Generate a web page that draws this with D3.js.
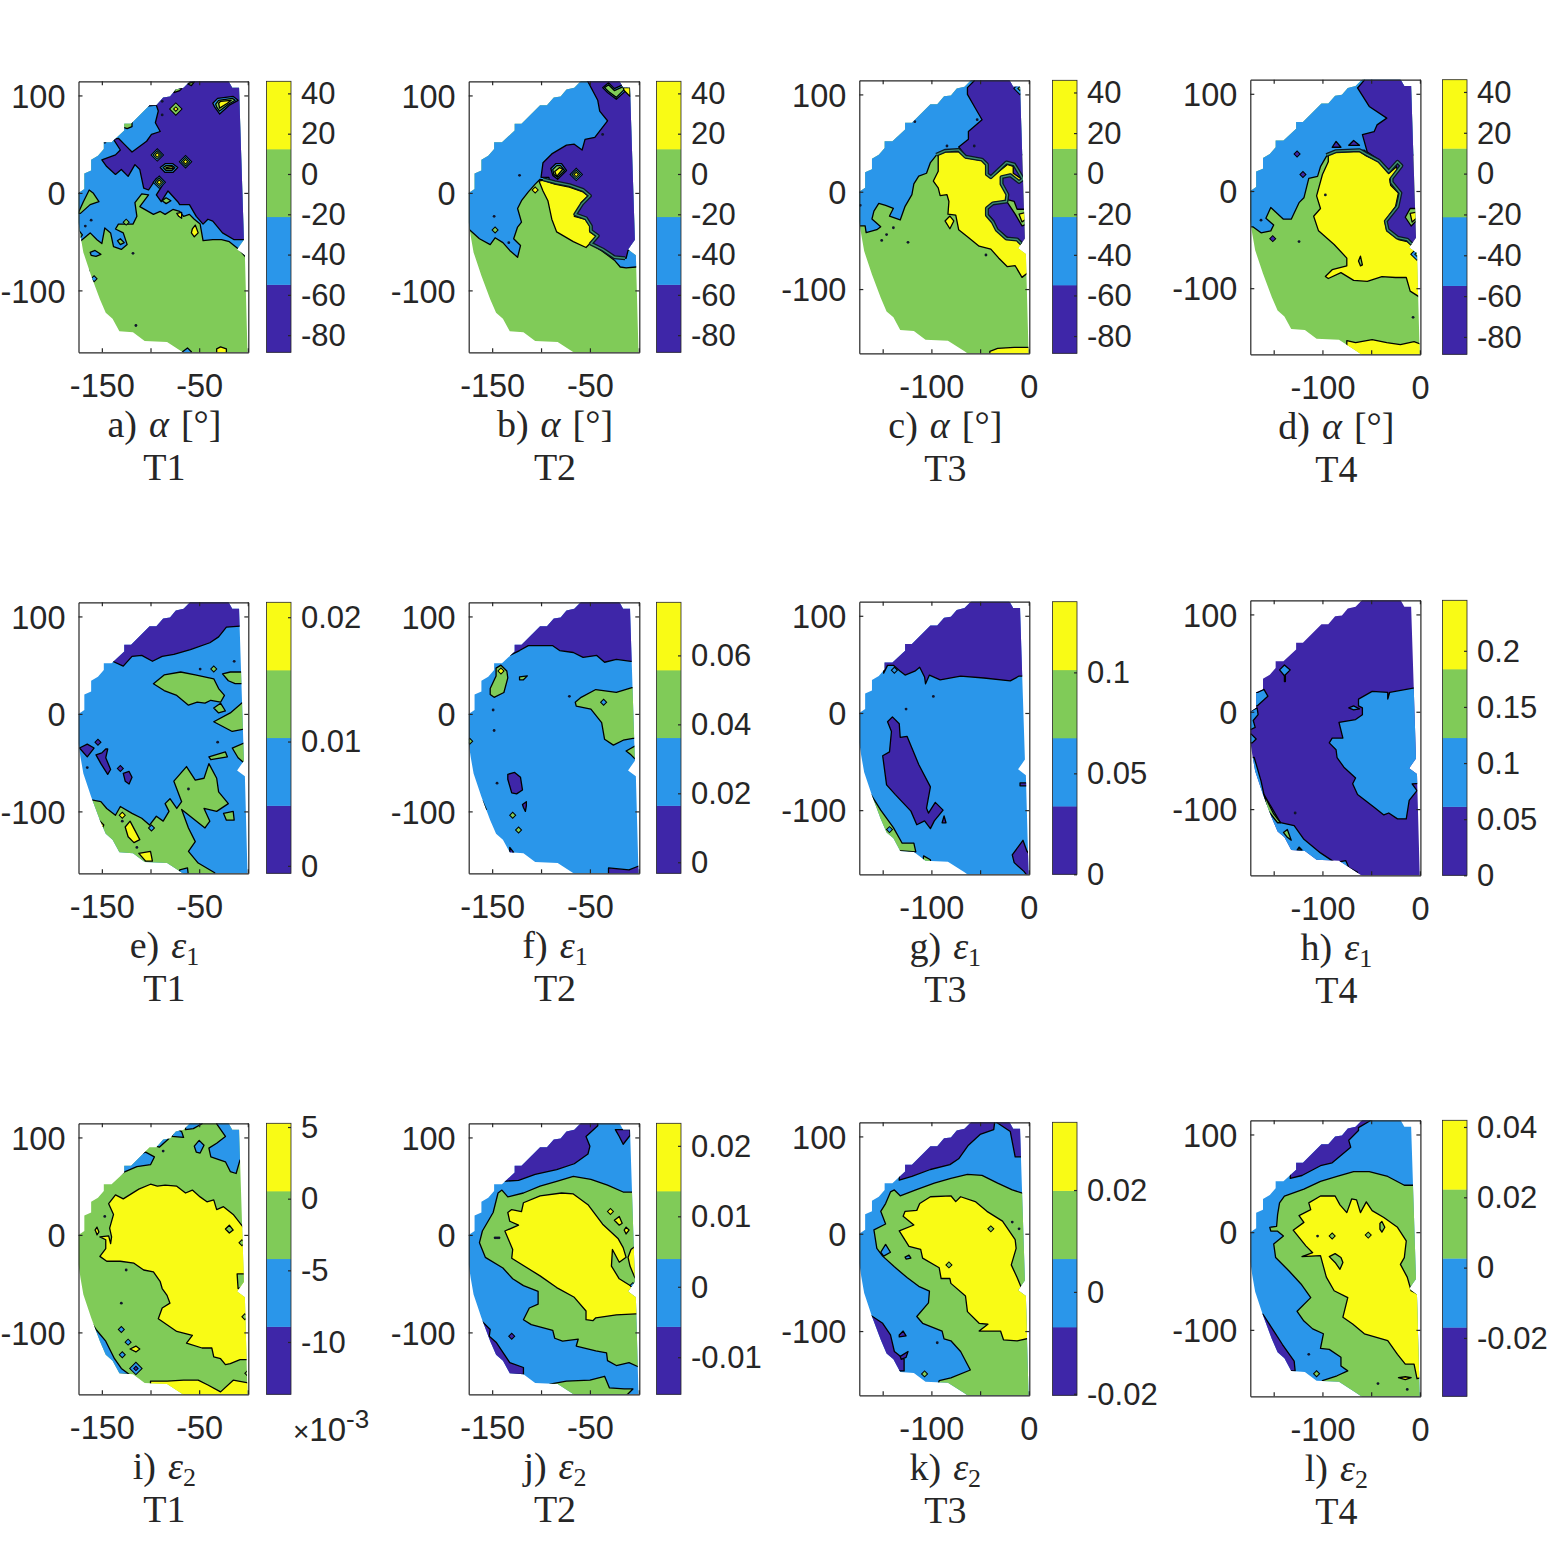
<!DOCTYPE html>
<html>
<head>
<meta charset="utf-8">
<script src="https://cdn.jsdelivr.net/npm/d3@7"></script>
<style>
  body { margin: 0; background: #fff; }
  text { fill: #262626; }
</style>
</head>
<body>
<div id="chart"></div>
<script>
// contour levels, dark to bright
var levelColors = ["#3e26a8", "#2a96ea", "#80cb58", "#f9fb15"];

// measured region shared by all the panels (x, y in degrees)
var outline = [-174,0, -168,4, -168,20, -161,23, -161,34, -154,38, -148,45, -148,52, -140,52, -127,64, -127,71, -120,71,
  -101,90, -94,90, -87,98, -80,99, -74,106, -66,108, -59,115, -59,125, -20,125, -20,115, -16,108, -9,108, -4,-48, -11,-58, -3,-64,
  0,-175, -50,-175, -66,-164, -83,-153, -106,-152, -118,-143, -132,-142, -139,-129, -146,-123, -152,-109, -161,-85,
  -169,-61, -172,-44, -174,-30];

// regions are [level, x,y, x,y, ...] painted in order over the base level
var baseA = 2;
var regionsA = [
  [1, -174,-51, -162,-41, -155,-48, -150,-52, -147,-36, -141,-41, -138,-55, -130,-58, -124,-53, -128,-41, -136,-37, -133,-32, -118,-32, -114,-24, -116,-10, -109,-1, -102,-2, -111,-14, -97,-22, -90,-19, -85,-22, -77,-17, -70,-19, -66,-24, -60,-22, -55,-27, -49,-32, -46,-49, -36,-48, -27,-48, -19,-50, -9,-58, -2,-66, 10,-66, 10,125, -185,125, -185,-51],
  [0, -118,75, -111,82, -104,89, -94,90, -92,84, -95,72, -90,63, -99,60, -104,53, -119,42, -126,49, -133,56, -138,55, -131,44, -136,39, -150,34, -145,27, -136,19, -130,24, -123,17, -116,29, -111,24, -107,5, -102,3, -94,15, -87,9, -94,-2, -89,-9, -82,2, -72,-9, -70,-12, -60,-12, -53,-24, -46,-32, -41,-27, -36,-29, -26,-41, -14,-48, 5,-48, 5,125, -118,125],
  [2, -127,73, -119,73, -119,68, -124,66, -130,68],
  [2, -76,103, -70,105, -68,107, -74,108],
  [2, -62,112, -55,114, -58,110],
  [2, -174,-20, -169,-9, -163,3, -159,0, -153,-9, -162,-12, -172,-21, -180,-21, -180,-20],
  [2, -174,-38, -170,-43, -172,-46, -180,-46, -180,-38],
  [1, -162,-61, -157,-59, -151,-63, -156,-65, -161,-64],
  [2, -134,-49, -131,-47, -127,-51, -131,-53],
  [3, -57,-37, -54,-33, -51,-41, -55,-45, -58,-41],
  [3, -73,-21, -68,-20, -68,-26, -71,-24],
  [2, -88,-8, -84,-5, -79,-8, -84,-11],
  [1, -90,26, -85,30, -77,30, -72,26, -77,21, -85,21],
  [2, -87,26, -84,28, -78,28, -75,26, -78,23, -84,23],
  [3, -84,26, -78,27, -76,25, -84,25],
  [1, -36,92, -31,97, -15,99, -10,95, -19,90, -29,81, -34,88],
  [2, -33,91, -30,95, -16,97, -13,95, -20,91, -29,84, -32,88],
  [3, -30,92, -28,94, -17,95, -21,92, -29,87],
  [1, -67,-163, -62,-159, -58,-163, -58,-170, -67,-170],
  [3, -32,-160, -28,-158, -22,-160, -22,-170, -32,-170]
];
var spotsA = [[-93,39,1,3], [-64,32,1,3], [-91,11,1,3], [-74,86,2,3], [-158,-88,1,1], [-125,-30,2,2]];
var specksA = [[-161,-28], [-167,-34], [-147,52], [-115,-136], [-118,-62], [-164,-80], [-88,80], [-88,94], [-174,0]];
var bandsA = [];

var baseB = 2;
var regionsB = [
  [1, -174,-37, -163,-47, -152,-53, -147,-46, -139,-51, -132,-59, -124,-66, -121,-54, -128,-47, -124,-35, -120,-30, -124,-16, -120,-8, -113,1, -106,9, -101,14, -86,11, -71,8, -57,2, -52,-3, -59,-11, -66,-23, -55,-27, -50,-40, -44,-45, -49,-52, -37,-60, -25,-69, -19,-76, -13,-77, -3,-76, 10,-76, 10,125, -185,125, -185,-37],
  [0, -100,16, -98,31, -89,40, -74,49, -66,50, -58,44, -55,55, -45,57, -32,74, -40,84, -42,95, -52,114, -60,125, 10,125, 10,-50, -11,-59, -13,-67, -23,-66, -38,-57, -49,-52, -43,-44, -50,-39, -50,-34, -54,-27, -66,-23, -58,-11, -51,-3, -57,2, -71,8, -86,10, -91,9, -92,16],
  [3, -102,12, -98,13, -86,9, -71,6, -57,1, -52,-3, -59,-10, -60,-16, -66,-24, -55,-27, -50,-34, -50,-40, -43,-45, -54,-56, -67,-50, -84,-40, -89,-27, -93,-8, -98,2],
  [1, -90,25, -85,30, -79,30, -74,23, -83,14, -88,18],
  [2, -88,24, -84,28, -80,28, -76,23, -83,16, -87,19],
  [3, -86,22, -81,26, -78,24, -84,17],
  [1, -37,108, -31,113, -25,107, -16,111, -11,107, -23,96, -32,103],
  [2, -35,108, -31,111, -25,105, -16,109, -14,107, -23,98, -31,104],
  [3, -16,108, -9,108, -9,99, -15,105]
];
var spotsB = [[-64,19,1,3], [-147,-38,2,2], [-106,3,3,3]];
var specksB = [[-122,18], [-148,-24], [-133,-51], [-37,60]];
var bandsB = [[-98,14, -86,11, -71,8, -57,3, -50,-3, -58,-11, -65,-22, -54,-26, -49,-34, -49,-39, -42,-44, -49,-52, -37,-58, -25,-66, -14,-67]];

var baseC = 2;
var regionsC = [
  [1, -173,-35, -168,-35, -167,-42, -156,-39, -152,-36, -161,-28, -159,-20, -154,-12, -147,-14, -139,-17, -143,-25, -132,-29, -127,-15, -120,-3, -118,8, -113,16, -105,19, -101,30, -93,40, -72,44, -60,38, 10,38, 10,125, -185,125, -185,-35],
  [0, -72,46, -62,54, -62,62, -48,74, -55,86, -63,100, -63,107, -56,114, -56,125, 10,125, 10,-50, -6,-56, -12,-50, -23,-48, -33,-39, -37,-31, -43,-24, -43,-17, -46,18, -65,37],
  [3, -93,38, -86,41, -72,41, -65,35, -48,32, -43,28, -43,18, -39,14, -22,28, -16,26, -16,19, -7,13, -10,9, -19,18, -27,14, -27,8, -21,-3, -22,-10, -36,-11, -43,-16, -42,-23, -36,-30, -32,-39, -22,-47, -12,-49, -5,-56, 2,-64, 2,-81, -7,-88, -14,-76, -22,-77, -31,-68, -39,-59, -51,-56, -62,-47, -72,-39, -75,-24, -83,-23, -82,-10, -84,-3, -91,-4, -93,4, -98,11, -93,21],
  [2, -22,-8, -15,-10, -12,-18, 2,-18, 2,-32, -7,-35, -14,-23, -22,-11],
  [3, -10,-23, 2,-20, 2,-25, -7,-31],
  [3, -86,-30, -81,-25, -77,-30, -81,-38],
  [3, -40,-164, -32,-161, -15,-160, 0,-160, 5,-172, -40,-172]
];
var spotsC = [[-9,106,1,2]];
var specksC = [[-146,-44], [-151,-50], [-139,-37], [-124,-52], [-44,-65], [-84,47], [-56,47], [-53,74], [-117,72], [-173,-14]];
var bandsC = [[-95,38, -86,42, -72,43, -65,36, -48,33, -43,28, -43,18, -39,15, -23,30, -15,28, -6,13, -10,10, -19,17, -28,15, -28,8, -22,-3, -23,-10, -37,-12, -43,-17, -43,-24, -37,-31, -33,-39, -23,-48, -12,-49, -6,-55]];

var baseD = 2;
var regionsD = [
  [1, -171,-37, -163,-43, -153,-41, -150,-35, -158,-28, -153,-17, -140,-29, -132,-29, -124,-12, -119,-7, -114,13, -105,15, -102,25, -94,39, -57,42, -52,37, 10,37, 10,125, -185,125, -185,-37],
  [0, -54,40, -59,58, -47,61, -44,68, -34,75, -52,87, -64,106, -57,114, -57,125, 10,125, 10,-50, -6,-57, -13,-50, -23,-48, -34,-40, -36,-31, -23,-16, -20,-2, -29,10, -29,15, -23,29, -32,22, -42,32],
  [3, -94,37, -86,40, -62,41, -55,36, -42,30, -32,18, -24,25, -23,20, -31,12, -30,6, -22,-2, -25,-16, -36,-31, -34,-41, -22,-50, -13,-52, -6,-58, 1,-76, 1,-110, -10,-103, -14,-89, -25,-89, -39,-88, -54,-93, -68,-92, -81,-84, -94,-90, -97,-88, -90,-81, -75,-77, -75,-69, -88,-55, -104,-41, -109,-26, -102,-18, -106,-5, -100,17, -94,30],
  [2, -15,-27, -10,-18, 1,-18, 1,-26, -9,-36],
  [3, -10,-23, 1,-21, 1,-24, -8,-32],
  [0, -90,45, -86,51, -81,45],
  [0, -73,47, -68,52, -62,47],
  [2, -63,-72, -61,-67, -59,-76, -61,-77],
  [3, -75,-154, -66,-156, -49,-153, -34,-156, -20,-158, -6,-155, 2,-158, 2,-172, -75,-172]
];
var spotsD = [[-126,38,0,0], [-120,17,0,0], [-151,-49,0,0], [-3,-65,1,2]];
var specksD = [[-163,-30], [-124,-52], [-97,-4], [-7,-130]];
var bandsD = [[-96,37, -86,41, -62,42, -55,38, -42,31, -32,20, -23,30, -19,26, -29,13, -29,9, -20,-2, -23,-16, -35,-31, -33,-40, -23,-48, -13,-50, -6,-57]];

var baseE = 1;
var regionsE = [
  [0, -139,54, -128,49, -119,59, -109,60, -98,54, -88,59, -76,61, -59,66, -39,73, -30,79, -22,89, -8,90, 10,90, 10,125, -139,125],
  [2, -97,31, -86,40, -69,43, -54,40, -35,36, -30,26, -24,19, -28,12, -38,14, -44,11, -52,12, -61,9, -73,19, -86,24],
  [2, -26,41, -18,43, -5,43, 10,43, 10,31, -13,31, -20,34],
  [2, -35,6, -28,11, -23,3, -30,1],
  [2, -35,-8, -18,1, -4,13, 10,13, 10,-13, -16,-18],
  [2, -16,-35, -4,-30, 10,-30, 10,-50, -3,-51, -10,-45],
  [2, -40,-44, -23,-39, -21,-44, -38,-47],
  [2, -162,-88, -151,-90, -145,-97, -136,-104, -131,-95, -119,-102, -109,-107, -101,-114, -94,-105, -87,-110, -81,-100, -85,-92, -80,-87, -73,-97, -68,-90, -76,-69, -63,-54, -54,-68, -45,-66, -40,-51, -32,-66, -30,-80, -20,-92, -32,-100, -45,-97, -39,-110, -44,-117, -68,-98, -61,-117, -54,-131, -61,-141, -51,-153, -34,-163, -34,-175, -185,-175, -185,-88],
  [2, -25,-102, -15,-100, -14,-109, -22,-109],
  [3, -126,-116, -121,-110, -111,-129, -117,-132, -123,-126],
  [3, -112,-143, -100,-141, -98,-151, -105,-151],
  [3, -165,-88, -160,-92, -158,-97, -170,-95],
  [3, -155,-107, -148,-114, -150,-118, -158,-112],
  [0, -173,-35, -165,-31, -158,-35, -165,-44],
  [0, -156,-42, -150,-40, -146,-36, -144,-36, -146,-45, -141,-57, -144,-62, -151,-51],
  [0, -128,-61, -122,-59, -119,-65, -122,-72, -126,-69],
  [1, -72,-175, -70,-160, -62,-158, -60,-175]
];
var spotsE = [[-99,-117,1,1], [-129,-104,3,3], [-35,46,2,2], [-154,-29,0,0], [-131,-56,0,0]];
var specksE = [[-61,-77], [-49,46], [-14,54], [-31,-29], [-114,-137], [-129,-110], [-165,-55]];
var bandsE = [];

var baseF = 1;
var regionsF = [
  [0, -132,60, -122,65, -113,70, -101,70, -88,70, -81,65, -67,63, -57,58, -43,60, -35,53, -23,56, -8,54, 10,54, 10,125, -132,125],
  [2, -152,26, -146,39, -146,47, -141,50, -135,44, -134,37, -138,22, -148,17, -152,20],
  [2, -122,38, -114,39, -118,35, -122,35],
  [2, -65,12, -59,17, -44,25, -23,22, -7,27, 10,27, 10,-25, -6,-25, -16,-27, -26,-32, -35,-26, -38,-9, -49,5, -64,8],
  [2, -13,-38, -4,-33, 10,-33, 10,-48, -4,-46, -8,-42],
  [0, -134,-62, -127,-60, -121,-65, -119,-78, -125,-82, -130,-81, -134,-67],
  [0, -119,-93, -115,-90, -115,-94, -116,-100, -118,-96],
  [0, -31,-164, -31,-158, -10,-160, 0,-156, 10,-156, 10,-175, -31,-175],
  [2, -160,-89, -156,-98, -160,-95, -166,-89],
  [0, -132,-137, -128,-142, -132,-145]
];
var spotsF = [[-141,44,3,3], [-36,12,1,1], [-129,-104,2,2], [-123,-119,2,2], [-173,-28,2,2]];
var specksF = [[-148,-17], [-149,4], [-71,18], [-145,-71]];
var bandsF = [];

var baseG = 1;
var regionsG = [
  [0, -149,41, -145,49, -139,49, -132,43, -127,39, -117,43, -112,47, -107,37, -106,30, -102,39, -91,34, -70,38, -46,36, -19,33, -10,38, -4,38, 10,38, 10,125, -149,125],
  [0, -145,-9, -140,-4, -133,-11, -132,-25, -125,-24, -120,-36, -113,-53, -101,-76, -105,-98, -103,-103, -96,-92, -88,-100, -97,-111, -101,-119, -107,-111, -115,-115, -121,-101, -137,-84, -146,-74, -150,-44, -143,-40, -141,-19],
  [0, -87,-106, -85,-113, -89,-113],
  [0, -17,-146, -6,-131, -2,-142, 2,-147, 4,-175, -5,-163, -15,-154],
  [0, -9,-72, 2,-72, 2,-75, -9,-75],
  [2, -162,-84, -152,-100, -139,-118, -130,-134, -118,-134, -116,-143, -130,-142, -185,-142, -185,-84],
  [2, -108,-147, -101,-151, -100,-165, -110,-165]
];
var spotsG = [[-138,44,1,1], [-143,-120,1,1]];
var specksG = [[-98,17], [-126,4]];
var bandsG = [];

var baseH = 0;
var regionsH = [
  [1, -63,13, -49,21, -33,20, -33,13, -31,20, -3,25, 10,25, 10,-73, -8,-74, -3,-81, -11,-91, -14,-110, -23,-110, -32,-104, -37,-106, -47,-98, -64,-85, -69,-74, -66,-68, -78,-57, -85,-47, -86,-39, -93,-32, -90,-27, -79,-27, -83,-11, -66,-8, -59,-3, -59,4, -63,6],
  [1, -170,-47, -163,-71, -160,-85, -150,-102, -143,-114, -129,-117, -119,-131, -102,-145, -87,-155, -76,-153, -73,-160, -64,-165, -64,-180, -185,-180, -185,-47],
  [1, -166,20, -160,23, -156,16, -167,6, -185,6, -185,20],
  [1, -173,1, -167,4, -166,-3, -171,-9, -169,-16, -173,-18, -185,-18, -185,1],
  [1, -173,-23, -168,-28, -172,-32, -185,-32, -185,-23],
  [1, -144,43, -139,48, -133,43, -139,37],
  [1, -139,37, -138,37, -138,31, -139,31],
  [1, -73,4, -68,6, -62,3, -68,2],
  [2, -160,-85, -155,-95, -150,-105, -143,-114, -146,-114, -157,-100],
  [2, -140,-124, -136,-121, -132,-132, -136,-129],
  [2, -126,-142, -124,-139, -121,-142]
];
var spotsH = [];
var specksH = [[-128,-104]];
var bandsH = [];

var baseI = 2;
var regionsI = [
  [3, -143,32, -136,41, -128,37, -112,47, -100,52, -93,50, -85,51, -73,50, -64,43, -57,46, -49,39, -42,34, -35,36, -32,26, -25,29, -15,21, -4,7, 10,7, 10,-128, 1,-128, -8,-128, -18,-132, -23,-133, -28,-127, -35,-125, -37,-116, -47,-116, -63,-111, -57,-103, -73,-99, -92,-86, -88,-75, -80,-70, -83,-62, -88,-55, -90,-48, -97,-38, -107,-36, -117,-29, -131,-27, -145,-27, -152,-22, -146,-14, -146,-5, -152,-2, -143,-1, -141,-9, -140,-2, -142,7, -138,21],
  [2, -11,-40, 5,-40, 5,-50, -10,-55],
  [3, -100,-150, -83,-150, -66,-149, -51,-149, -41,-154, -28,-161, -15,-149, 1,-152, 10,-152, 10,-175, -100,-175],
  [1, -134,60, -126,65, -114,70, -100,72, -96,80, -105,85, -114,82, -120,100, -185,100, -185,60],
  [1, -97,92, -91,90, -81,99, -88,103, -100,110],
  [1, -78,101, -66,100, -68,106, -75,110],
  [1, -64,108, -56,109, -47,114, -47,125, -64,125],
  [1, -32,114, -23,101, -32,94, -40,89, -38,80, -23,75, -18,65, -12,63, -8,77, 10,77, 10,125, -32,125],
  [1, -55,91, -50,97, -45,92, -49,84, -53,85],
  [1, -162,-88, -156,-97, -146,-109, -137,-127, -130,-137, -122,-143, -185,-143, -185,-88],
  [3, -121,-117, -115,-114, -111,-117, -115,-120],
  [2, -23,6, -19,10, -15,5, -19,2],
  [3, -157,5, -155,8, -153,3, -155,0, -156,3]
];
var spotsI = [[-130,-97,1,1], [-129,-123,1,1], [-115,-137,1,0], [-123,-110,1,1], [-6,-8,2,2], [-3,-84,2,2], [0,-142,2,2]];
var specksI = [[-125,-36], [-130,-70], [-87,86], [-147,19]];
var bandsI = [];

var baseJ = 1;
var regionsJ = [
  [0, -139,55, -123,56, -106,62, -84,67, -66,73, -52,83, -50,91, -54,101, -42,112, -42,125, -139,125],
  [0, -24,108, -9,108, -9,102, -16,93, -20,101],
  [0, -161,-88, -152,-97, -153,-104, -146,-110, -132,-131, -118,-136, -118,-143, -132,-143, -185,-143, -185,-88],
  [2, -144,43, -140,46, -134,39, -118,43, -101,50, -84,55, -67,60, -49,57, -32,51, -16,44, -7,44, 10,44, 10,-136, 1,-136, -10,-131, -23,-134, -32,-129, -33,-121, -44,-119, -64,-114, -62,-107, -78,-109, -86,-106, -88,-98, -110,-92, -118,-87, -112,-75, -103,-71, -103,-58, -118,-52, -129,-45, -139,-34, -157,-23, -163,-8, -160,4, -149,23],
  [2, -91,-153, -74,-150, -50,-149, -35,-145, -30,-157, -15,-158, -6,-158, -13,-165, -13,-175, -91,-175],
  [3, -134,23, -130,26, -120,24, -118,33, -101,40, -79,43, -67,42, -52,31, -37,11, -21,-4, -16,-13, -13,-23, -20,-28, -27,-15, -28,-32, -20,-45, -4,-55, 10,-55, 10,-81, -3,-81, -23,-82, -44,-85, -47,-88, -54,-87, -54,-78, -66,-64, -84,-54, -101,-42, -130,-24, -129,-15, -137,4, -123,10, -132,14],
  [3, -11,-23, -8,-15, -4,-12, 10,-12, 10,-44, -4,-44, -9,-32],
  [3, -25,15, -20,19, -17,12, -20,10],
  [3, -15,5, -13,8, -10,5, -13,1]
];
var spotsJ = [[-29,24,3,3], [-130,-104,0,0], [-6,-52,1,1]];
var specksJ = [[-147,-3], [-145,-3], [-143,-3]];
var bandsJ = [];

var baseK = 1;
var regionsK = [
  [0, -133,55, -120,59, -101,66, -81,71, -72,77, -62,91, -50,102, -36,107, -35,115, -35,125, -133,125],
  [0, -34,115, -19,105, -14,79, -6,79, 10,79, 10,125, -34,125],
  [0, -162,-84, -150,-92, -142,-104, -138,-121, -128,-129, -128,-141, -185,-141, -185,-84],
  [0, -133,-104, -129,-100, -126,-105, -133,-106],
  [0, -132,-126, -124,-121, -126,-127, -131,-129],
  [2, -142,43, -138,45, -132,39, -116,45, -97,52, -80,57, -63,61, -48,60, -32,52, -17,45, -4,41, 10,41, 10,-175, -100,-175, -92,-151, -80,-148, -60,-140, -70,-121, -80,-110, -87,-108, -89,-100, -109,-92, -115,-85, -103,-71, -102,-59, -113,-54, -125,-45, -138,-34, -150,-23, -156,-15, -159,4, -147,10, -152,23, -147,31],
  [1, -152,-19, -147,-11, -142,-19, -149,-23],
  [1, -127,-24, -123,-22, -121,-25, -126,-26],
  [3, -112,31, -101,38, -80,39, -75,33, -70,38, -55,33, -43,23, -27,13, -14,-6, -13,-15, -18,-32, -12,-45, -7,-57, 2,-63, 10,-63, 10,-107, 2,-107, -12,-110, -26,-109, -29,-100, -51,-100, -42,-93, -51,-92, -63,-80, -65,-64, -80,-51, -81,-46, -90,-46, -92,-35, -109,-25, -111,-16, -123,-13, -133,3, -118,9, -129,18, -127,23, -115,24],
  [3, -2,-20, -3,-28, -1,-39, 10,-39, 10,-20]
];
var spotsK = [[-39,5,2,2], [-82,-32,2,2], [-107,-144,2,2]];
var specksK = [[-17,12], [-10,5], [-94,-112]];
var bandsK = [];

var baseL = 1;
var regionsL = [
  [0, -133,55, -121,58, -102,68, -90,71, -71,87, -73,94, -63,104, -63,107, -51,114, -51,125, -133,125],
  [0, -161,-84, -150,-101, -141,-115, -129,-132, -128,-142, -185,-142, -185,-84],
  [2, -144,30, -139,37, -119,44, -102,52, -85,57, -68,62, -52,62, -33,57, -16,48, -4,48, 10,48, 10,-175, -100,-175, -100,-152, -85,-147, -74,-142, -81,-137, -81,-128, -93,-120, -102,-119, -99,-104, -110,-99, -119,-91, -126,-81, -112,-67, -122,-53, -134,-40, -148,-26, -150,-12, -140,-4, -146,1, -153,1, -154,5, -147,6, -146,18],
  [3, -114,30, -102,37, -87,37, -82,28, -75,20, -70,34, -65,33, -61,20, -55,31, -49,22, -37,15, -23,5, -14,-9, -16,-26, -20,-33, -13,-46, -9,-60, 1,-65, 10,-65, 10,-149, 1,-149, -3,-150, -6,-135, -15,-135, -23,-125, -33,-111, -57,-104, -69,-94, -79,-87, -74,-67, -88,-60, -96,-46, -102,-24, -121,-25, -110,-21, -117,-14, -130,2, -119,10, -124,17, -112,23],
  [2, -93,-25, -87,-22, -81,-26, -79,-31, -82,-38, -87,-31],
  [2, -41,9, -39,11, -36,5, -39,0, -41,3],
  [3, -22,-149, -15,-148, -9,-149, -15,-151]
];
var spotsL = [[-53,-3,2,2], [-90,-4,2,2], [-106,-145,2,2]];
var specksL = [[-105,-4], [-114,-125], [-43,-155], [-13,-161]];
var bandsL = [];

// colorbar ranges and tick labels
var alphaDomain = [-88.5, 46];
var alphaTicks = [40, 20, 0, -20, -40, -60, -80];
var cbarDomains = [alphaDomain, alphaDomain, alphaDomain, alphaDomain,
  [-0.0006, 0.0212], [-0.0032, 0.0754], [0, 0.135], [0, 0.245],
  [-13.65, 5.26], [-0.01526, 0.0232], [-0.0203, 0.0333], [-0.0366, 0.0419]];
var cbarTicks = [alphaTicks, alphaTicks, alphaTicks, alphaTicks,
  [0.02, 0.01, 0], [0.06, 0.04, 0.02, 0], [0.1, 0.05, 0], [0.2, 0.15, 0.1, 0.05, 0],
  [5, 0, -5, -10], [0.02, 0.01, 0, -0.01], [0.02, 0, -0.02], [0.04, 0.02, 0, -0.02]];

var letters = ["a", "b", "c", "d", "e", "f", "g", "h", "i", "j", "k", "l"];
var symbols = ["alpha", "alpha", "alpha", "alpha", "e1", "e1", "e1", "e1", "e2", "e2", "e2", "e2"];
var trials = ["T1", "T2", "T3", "T4", "T1", "T2", "T3", "T4", "T1", "T2", "T3", "T4"];
var xTicks = [-150, -100, -50, 0];
var xLabelsWide = [-150, -50];
var xLabelsNarrow = [-100, 0];
var yTicks = [100, 0, -100];

var bases = [baseA, baseB, baseC, baseD, baseE, baseF, baseG, baseH, baseI, baseJ, baseK, baseL];
var regions = [regionsA, regionsB, regionsC, regionsD, regionsE, regionsF, regionsG, regionsH, regionsI, regionsJ, regionsK, regionsL];
var spots = [spotsA, spotsB, spotsC, spotsD, spotsE, spotsF, spotsG, spotsH, spotsI, spotsJ, spotsK, spotsL];
var specks = [specksA, specksB, specksC, specksD, specksE, specksF, specksG, specksH, specksI, specksJ, specksK, specksL];
var bands = [bandsA, bandsB, bandsC, bandsD, bandsE, bandsF, bandsG, bandsH, bandsI, bandsJ, bandsK, bandsL];

// page layout
var lefts = [78.5, 468.7, 859.3, 1250.3];
var rights = [248.3, 639.3, 1029.3, 1420.4];
var barLefts = [266.5, 656.5, 1052.5, 1442.5];
var boxTops = [[81.3, 81.3, 80.3, 79.7], [602.3, 602.3, 601.7, 600.3], [1123.3, 1123.3, 1122.3, 1120.3]];
var boxBottoms = [[352.3, 352.3, 353.3, 354.3], [873.3, 873.3, 874.3, 875.3], [1394.3, 1394.3, 1395.3, 1396.3]];
var yBottoms = [-163.5, -163.5, -166, -168];

var svg = d3.select("#chart").append("svg")
  .attr("width", 1563)
  .attr("height", 1563)
  .style("display", "block");

var axisColor = "#262626";
var axisFont = "'Liberation Sans', Arial, sans-serif";
var captionFont = "'Liberation Serif', serif";

function chunk(flat) {
  var pts = [];
  for (var i = 0; i < flat.length; i += 2) pts.push([flat[i], flat[i + 1]]);
  return pts;
}

function styleAxis(g, size) {
  g.selectAll("path, line").attr("stroke", axisColor).attr("stroke-width", 1.2);
  g.selectAll("text").attr("fill", axisColor).attr("font-family", axisFont).attr("font-size", size || 32.5);
}

function drawPanel(idx) {
  var col = idx % 4, row = Math.floor(idx / 4);
  var left = lefts[col], right = rights[col], top = boxTops[row][col], bottom = boxBottoms[row][col];

  var x = d3.scaleLinear().domain([-174, 0.5]).range([left, right]);
  var y = d3.scaleLinear().domain([114.5, yBottoms[col]]).range([top, bottom]);
  var line = d3.line().x(function(d) { return x(d[0]); }).y(function(d) { return y(d[1]); });

  var defs = svg.append("defs");
  defs.append("clipPath").attr("id", "box" + idx).append("rect")
    .attr("x", left).attr("y", top).attr("width", right - left).attr("height", bottom - top);
  defs.append("clipPath").attr("id", "shape" + idx).append("path")
    .attr("d", line(chunk(outline)) + "Z");

  var plot = svg.append("g").attr("clip-path", "url(#box" + idx + ")")
    .append("g").attr("clip-path", "url(#shape" + idx + ")");

  plot.append("rect")
    .attr("x", left - 5).attr("y", top - 5)
    .attr("width", right - left + 10).attr("height", bottom - top + 10)
    .attr("fill", levelColors[bases[idx]]);

  plot.selectAll("path.region").data(regions[idx]).enter().append("path")
    .attr("class", "region")
    .attr("d", function(d) { return line(chunk(d.slice(1))) + "Z"; })
    .attr("fill", function(d) { return levelColors[d[0]]; })
    .attr("stroke", "#000")
    .attr("stroke-width", 1.3)
    .attr("stroke-linejoin", "round");

  // close contour lines where the field jumps several levels
  bands[idx].forEach(function(b) {
    var pts = chunk(b);
    plot.append("path").attr("d", line(pts)).attr("fill", "none")
      .attr("stroke", "#0b1a22").attr("stroke-width", 4).attr("stroke-linejoin", "round");
    plot.append("path").attr("d", line(pts)).attr("fill", "none")
      .attr("stroke", "#3f8f70").attr("stroke-width", 1.4).attr("stroke-linejoin", "round");
  });

  spots[idx].forEach(function(s) {
    var n = Math.abs(s[3] - s[2]) + 1;
    var step = s[3] >= s[2] ? 1 : -1;
    for (var i = 0; i < n; i++) {
      var r = n == 1 ? 3 : 6.2 - (4 * i / (n - 1));
      plot.append("path")
        .attr("d", d3.symbol().type(d3.symbolSquare).size(r * r * 2)())
        .attr("transform", "translate(" + x(s[0]) + "," + y(s[1]) + ") rotate(45)")
        .attr("fill", levelColors[s[2] + i * step])
        .attr("stroke", "#000").attr("stroke-width", 1);
    }
  });

  plot.selectAll("circle").data(specks[idx]).enter().append("circle")
    .attr("cx", function(d) { return x(d[0]); })
    .attr("cy", function(d) { return y(d[1]); })
    .attr("r", 1.4)
    .attr("fill", "#10152c");

  // box with inward ticks
  var xLabels = col < 2 ? xLabelsWide : xLabelsNarrow;
  var tick = function(d) { return xLabels.indexOf(d) >= 0 ? String(d) : ""; };
  svg.append("g").attr("transform", "translate(0," + bottom + ")")
    .call(d3.axisBottom(x).tickValues(xTicks).tickSize(-4).tickSizeOuter(0).tickPadding(22).tickFormat(tick))
    .call(styleAxis);
  svg.append("g").attr("transform", "translate(0," + top + ")")
    .call(d3.axisTop(x).tickValues(xTicks).tickSize(-4).tickSizeOuter(0).tickFormat(""))
    .call(styleAxis);
  svg.append("g").attr("transform", "translate(" + left + ",0)")
    .call(d3.axisLeft(y).tickValues(yTicks).tickSize(-4).tickSizeOuter(0).tickPadding(13).tickFormat(String))
    .call(styleAxis)
    .call(function(g) { g.selectAll("text").attr("dy", "0.36em"); });
  svg.append("g").attr("transform", "translate(" + right + ",0)")
    .call(d3.axisRight(y).tickValues(yTicks).tickSize(-4).tickSizeOuter(0).tickFormat(""))
    .call(styleAxis);

  // colorbar
  var barL = barLefts[col], barW = 24.5;
  var c = d3.scaleLinear().domain(cbarDomains[idx]).range([bottom, top]);
  var bandH = (bottom - top) / 4;
  svg.selectAll("rect.bar" + idx).data(levelColors).enter().append("rect")
    .attr("class", "bar" + idx)
    .attr("x", barL).attr("width", barW)
    .attr("y", function(d, i) { return bottom - (i + 1) * bandH; })
    .attr("height", bandH + 0.3)
    .attr("fill", function(d) { return d; });
  svg.append("rect").attr("x", barL).attr("y", top).attr("width", barW).attr("height", bottom - top)
    .attr("fill", "none").attr("stroke", axisColor).attr("stroke-width", 0.8);
  svg.append("g").attr("transform", "translate(" + (barL + barW) + ",0)")
    .call(d3.axisRight(c).tickValues(cbarTicks[idx]).tickSize(-3).tickSizeOuter(0).tickPadding(10).tickFormat(String))
    .call(styleAxis, 31)
    .call(function(g) { g.select(".domain").remove(); g.selectAll("text").attr("dy", "0.33em"); });

  // captions under the panel
  var cx = (left + right) / 2 + 1;
  var cap = svg.append("text")
    .attr("x", cx).attr("y", bottom + 85)
    .attr("text-anchor", "middle")
    .attr("font-family", captionFont).attr("font-size", 38);
  cap.append("tspan").text(letters[idx] + ")");
  if (symbols[idx] == "alpha") {
    cap.append("tspan").attr("dx", 12).attr("font-style", "italic").text("\u03B1");
    cap.append("tspan").attr("dx", 12).text("[\u00B0]");
  } else {
    cap.append("tspan").attr("dx", 12).attr("font-style", "italic").text("\u03B5");
    cap.append("tspan").attr("font-size", 26).attr("dy", 7).text(symbols[idx] == "e1" ? "1" : "2");
  }
  svg.append("text")
    .attr("x", cx).attr("y", bottom + 128)
    .attr("text-anchor", "middle")
    .attr("font-family", captionFont).attr("font-size", 38)
    .text(trials[idx]);
}

d3.range(12).forEach(drawPanel);

// common multiplier of panel i
var mult = svg.append("text")
  .attr("x", 293).attr("y", 1441)
  .attr("font-family", axisFont).attr("font-size", 33).attr("fill", axisColor);
mult.append("tspan").attr("font-size", 28).text("\u00D7");
mult.append("tspan").text("10");
mult.append("tspan").attr("font-size", 26).attr("dy", -13).text("-3");
</script>
</body>
</html>
